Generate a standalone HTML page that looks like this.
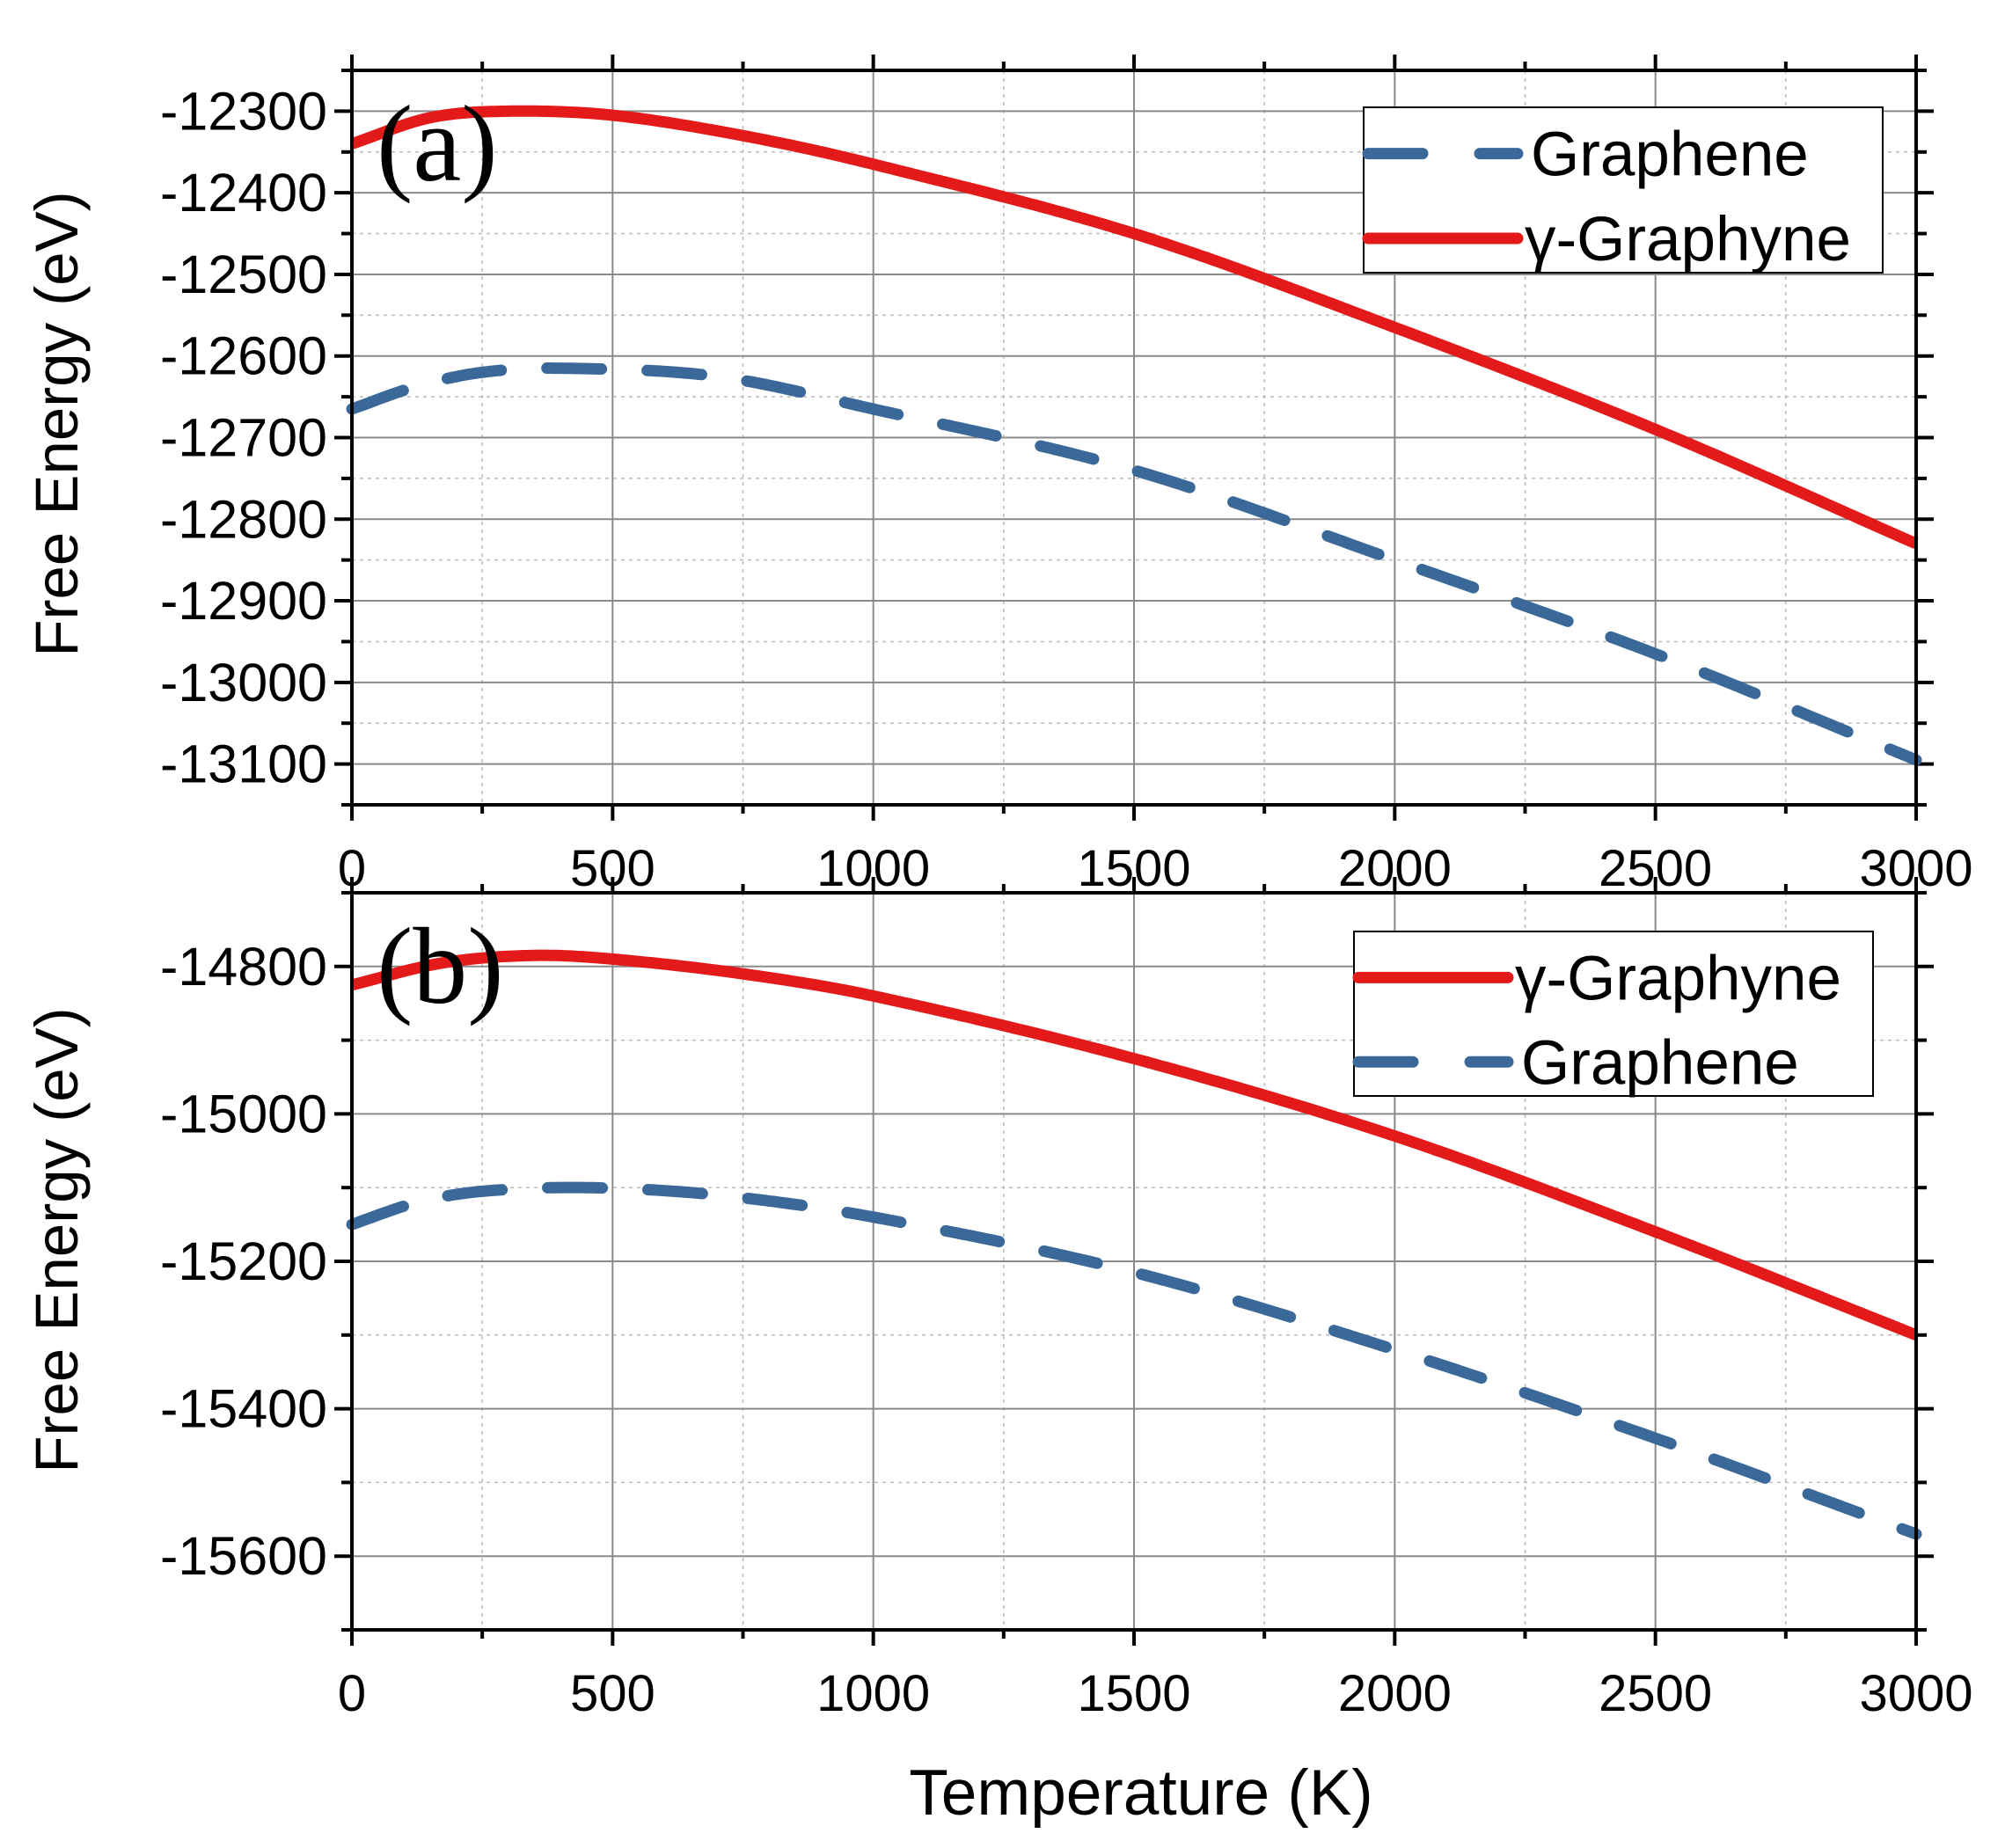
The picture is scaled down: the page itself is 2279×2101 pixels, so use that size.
<!DOCTYPE html>
<html><head><meta charset="utf-8"><style>
html,body{margin:0;padding:0;background:#fff;}
svg{display:block;font-family:"Liberation Sans",sans-serif;}
</style></head><body>
<svg id="s" width="2279" height="2101" viewBox="0 0 2279 2101" xmlns="http://www.w3.org/2000/svg"></svg>
<script>
const s=document.getElementById('s');let h='';
const X0=400,X1=2178;
function xm(t){return X0+(X1-X0)*t/3000;}
function interp(pts,t){for(let i=0;i<pts.length-1;i++){if(t<=pts[i+1][0]){const a=pts[i],b=pts[i+1];const u=(t-a[0])/(b[0]-a[0]);
 const p0=pts[Math.max(0,i-1)],p3=pts[Math.min(pts.length-1,i+2)];
 const m1=(b[1]-p0[1])/(b[0]-p0[0])*(b[0]-a[0]),m2=(p3[1]-a[1])/(p3[0]-a[0])*(b[0]-a[0]);
 const u2=u*u,u3=u2*u;return (2*u3-3*u2+1)*a[1]+(u3-2*u2+u)*m1+(-2*u3+3*u2)*b[1]+(u3-u2)*m2;}}return pts[pts.length-1][1];}
function panel(top,bot,ymin,ymax,major,red,blue,legendTop,label,order,titleY){
 const ym=v=>top+(ymax-v)/(ymax-ymin)*(bot-top);
 for(let t=0;t<=3000;t+=250){const x=xm(t);const maj=t%500==0;
  if(t>0&&t<3000)h+=`<line x1="${x}" y1="${top}" x2="${x}" y2="${bot}" stroke="${maj?'#8a8a8a':'#bbb'}" stroke-width="${maj?2:1.5}" ${maj?'':'stroke-dasharray="4 5"'}/>`;
  h+=`<line x1="${x}" y1="${top}" x2="${x}" y2="${top-(maj?18:10)}" stroke="#000" stroke-width="4"/>`;
  h+=`<line x1="${x}" y1="${bot}" x2="${x}" y2="${bot+(maj?18:10)}" stroke="#000" stroke-width="4"/>`;
  if(maj)h+=`<text x="${x}" y="${bot+92}" font-size="58" text-anchor="middle">${t}</text>`;}
 const minor=major/2;
 for(let v=Math.ceil(ymin/minor)*minor;v<=ymax;v+=minor){const y=ym(v);const maj=Math.round(v/major)*major==v;
  if(y>top+3&&y<bot-3)h+=`<line x1="${X0}" y1="${y}" x2="${X1}" y2="${y}" stroke="${maj?'#8a8a8a':'#bbb'}" stroke-width="${maj?2:1.5}" ${maj?'':'stroke-dasharray="4 5"'}/>`;
  h+=`<line x1="${X0}" y1="${y}" x2="${X0-(maj?20:12)}" y2="${y}" stroke="#000" stroke-width="4"/>`;
  h+=`<line x1="${X1}" y1="${y}" x2="${X1+(maj?20:12)}" y2="${y}" stroke="#000" stroke-width="4"/>`;
  if(maj)h+=`<text x="372" y="${y+21}" font-size="61" text-anchor="end">${v}</text>`;}
 function path(pts){let d='';for(let t=0;t<=3000;t+=10){d+=(t?'L':'M')+xm(t).toFixed(1)+','+ym(interp(pts,t)).toFixed(1);}return d;}
 h+=`<path d="${path(blue)}" fill="none" stroke="#3a6898" stroke-width="13" stroke-linecap="round" stroke-dasharray="62 52"/>`;
 h+=`<path d="${path(red)}" fill="none" stroke="#e41a1a" stroke-width="13"/>`;
 h+=`<rect x="${X0}" y="${top}" width="${X1-X0}" height="${bot-top}" fill="none" stroke="#000" stroke-width="4"/>`;
 h+=`<text x="428" y="${top+125}" font-size="124" font-family="Liberation Serif,serif">${label}</text>`;
 const [lx,ly,lw,lh]=legendTop;
 h+=`<rect x="${lx}" y="${ly}" width="${lw}" height="${lh}" fill="#fff" stroke="#000" stroke-width="2"/>`;
 order.forEach((o,i)=>{const y=ly+lh*(0.28+0.47*i)+(i?8:0);
  if(o=='g'){h+=`<line x1="${lx+5}" y1="${y}" x2="${lx+175}" y2="${y}" stroke="#3a6898" stroke-width="13" stroke-linecap="round" stroke-dasharray="62 65"/>`;
   h+=`<text x="${lx+190}" y="${y+25}" font-size="71">Graphene</text>`;}
  else{h+=`<line x1="${lx+5}" y1="${y}" x2="${lx+175}" y2="${y}" stroke="#e41a1a" stroke-width="13" stroke-linecap="round"/>`;
   h+=`<text x="${lx+183}" y="${y+25}" font-size="71">γ-Graphyne</text>`;}});
 h+=`<text transform="translate(88,${titleY}) rotate(-90)" font-size="69" text-anchor="middle">Free Energy (eV)</text>`;
}
panel(80,915,-13150,-12250,100,
 [[0,-12340],[150,-12308],[300,-12300],[500,-12305],[750,-12330],[1000,-12365],[1500,-12450],[2000,-12565],[2500,-12690],[3000,-12830]],
 [[0,-12665],[125,-12637],[250,-12620],[400,-12615],[700,-12625],[1000,-12665],[1500,-12740],[2000,-12850],[2500,-12965],[3000,-13095]],
 [1550,122,590,188],'(a)',['g','r'],482);
panel(1015,1853,-15700,-14700,200,
 [[0,-14825],[175,-14795],[350,-14785],[500,-14790],[750,-14810],[1000,-14840],[1500,-14925],[2000,-15030],[2500,-15160],[3000,-15300]],
 [[0,-15150],[125,-15120],[250,-15105],[450,-15100],[700,-15110],[1000,-15140],[1500,-15215],[2000,-15320],[2500,-15440],[3000,-15570]],
 [1539,1059,590,187],'(b)',['r','g'],1410);
h+=`<text x="1297" y="2063" font-size="73" text-anchor="middle">Temperature (K)</text>`;
s.innerHTML=h;
</script>
</body></html>
